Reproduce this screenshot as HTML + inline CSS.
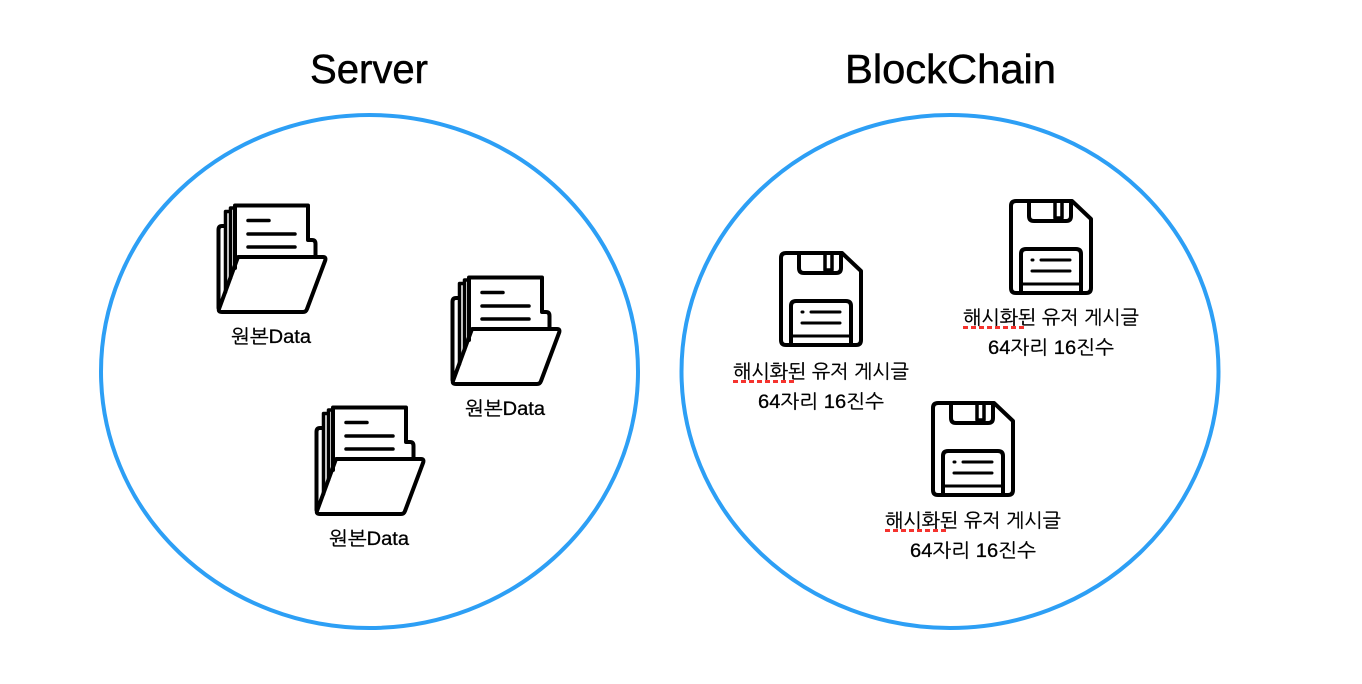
<!DOCTYPE html>
<html><head><meta charset="utf-8">
<style>
html,body{margin:0;padding:0;background:#fff;width:1362px;height:684px;overflow:hidden}
svg{display:block}
text{font-family:"Liberation Sans","NanumGothic","Noto Sans CJK KR",sans-serif;fill:#000;stroke:#000}
.t{font-size:41px;stroke-width:.5px}
.l{font-size:19px;stroke-width:.3px}
</style></head>
<body>
<svg width="1362" height="684" viewBox="0 0 1362 684" xmlns="http://www.w3.org/2000/svg">
<defs>
<g id="folder" fill="none" stroke="#000" stroke-width="4" stroke-linejoin="round" stroke-linecap="round">
  <path d="M225.500 292V211.500H229M230.500 278V208H235" stroke-width="3.500"/>
  <path d="M235 268V205.500H308V239"/>
  <path d="M308 240H312Q315.500 240 315.500 244V256"/>
  <path d="M225 226H222Q218.500 226 218.500 230V308"/>
  <path d="M219 309L238 257H323Q326.500 257 325 261L307 309Q306 312 303 312H222Q218 312 219 309Z"/>
  <path d="M248 220.500H269M248 234H295M248 247H295" stroke-width="3.500"/>
</g>
<g id="floppy" fill="none" stroke="#000" stroke-width="4" stroke-linejoin="round" stroke-linecap="round">
  <path d="M786 253H842L861 271V340Q861 345 856 345H786Q781 345 781 340V258Q781 253 786 253Z"/>
  <path d="M799 253V268Q799 273 804 273H836Q841 273 841 268V253"/>
  <path d="M825 254V270H832V254" stroke-width="3.500"/>
  <path d="M791 345V306Q791 301 796 301H846Q851 301 851 306V345"/>
  <path d="M791 336H851" stroke-width="3"/>
  <path d="M811 312H840M802 323H840" stroke-width="3"/>
  <path d="M802 312H803" stroke-width="3"/>
</g>
<g id="hash">
  <text class="l" x="733" y="378" textLength="176" lengthAdjust="spacingAndGlyphs">해시화된 유저 게시글</text>
  <text class="l" x="758" y="408" textLength="126" lengthAdjust="spacingAndGlyphs">64자리 16진수</text>
  <path d="M733 381.500H795" stroke="#f5332e" stroke-width="3" stroke-dasharray="5 3" fill="none"/>
</g>
</defs>

<text class="t" x="310" y="83" textLength="118" lengthAdjust="spacingAndGlyphs">Server</text>
<text class="t" x="845" y="83" textLength="211" lengthAdjust="spacingAndGlyphs">BlockChain</text>

<ellipse cx="369.500" cy="371.500" rx="268.500" ry="256.500" fill="none" stroke="#2d9ff5" stroke-width="4"/>
<ellipse cx="950" cy="371.500" rx="268.500" ry="256.500" fill="none" stroke="#2d9ff5" stroke-width="4"/>

<use href="#folder"/>
<use href="#folder" transform="translate(234,72)"/>
<use href="#folder" transform="translate(98,202)"/>
<text class="l" x="231" y="343" textLength="80" lengthAdjust="spacingAndGlyphs">원본Data</text>
<text class="l" x="465" y="415" textLength="80" lengthAdjust="spacingAndGlyphs">원본Data</text>
<text class="l" x="329" y="545" textLength="80" lengthAdjust="spacingAndGlyphs">원본Data</text>

<use href="#floppy"/>
<use href="#floppy" transform="translate(230,-52)"/>
<use href="#floppy" transform="translate(152,150)"/>
<use href="#hash"/>
<use href="#hash" transform="translate(230,-54)"/>
<use href="#hash" transform="translate(152,149)"/>
</svg>
</body></html>
